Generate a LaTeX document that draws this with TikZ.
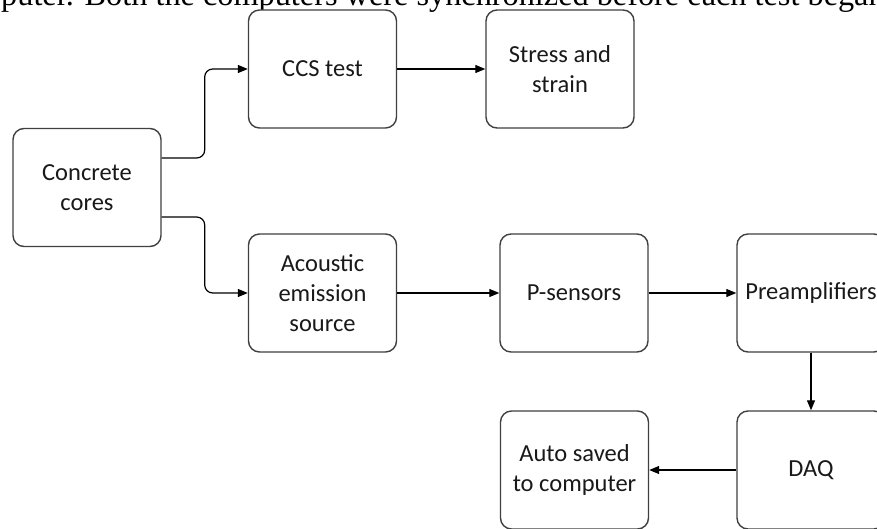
\documentclass[tikz,border=0pt]{standalone}
\usepackage{fontspec}
\setmainfont{Carlito}
\newfontfamily\pagefont{Liberation Serif}
\usetikzlibrary{arrows.meta}
\begin{document}
\begin{tikzpicture}[x=1pt,y=-1pt,
  box/.style={draw=black!75, line width=1.4pt, rounded corners=11pt, fill=white,
    minimum width=148pt, minimum height=118pt, align=center, inner sep=2pt,
    font=\fontsize{24.5}{30}\selectfont, text=black!90},
  arr/.style={draw=black, line width=1.2pt, -{Triangle[length=10pt,width=8pt]}}]
\useasboundingbox (0,0) rectangle (877,529);
\clip (0,0) rectangle (877,529);
\fill[white] (0,0) rectangle (877,529);
\node[anchor=base west, inner sep=0pt, font=\pagefont\fontsize{32.3}{38}\selectfont] (pg) at (1,5.5)
  {puter. Both the computers were synchronized before each test began};
\node[box] (cc) at (87,187.5) {Concrete\\cores};
\node[box] (ccs) at (322.5,69) {CCS test};
\node[box] (ss) at (560,69) {Stress and\\strain};
\node[box] (ae) at (322.5,293) {Acoustic\\emission\\source};
\node[box] (ps) at (574,293) {P-sensors};
\node[box] (pre) at (811,293) {Preamplifiers};
\node[box] (daq) at (811,470) {DAQ};
\node[box] (auto) at (574.5,470) {Auto saved\\to computer};
\draw[arr, rounded corners=8pt] ([yshift=29.5pt]cc.east) -- ++(43,0) |- (ccs.west);
\draw[arr, rounded corners=8pt] ([yshift=-29.5pt]cc.east) -- ++(43,0) |- (ae.west);
\draw[arr] (ccs) -- (ss);
\draw[arr] (ae) -- (ps);
\draw[arr] (ps) -- (pre);
\draw[arr] (pre) -- (daq);
\draw[arr] (daq) -- (auto);
\end{tikzpicture}
\end{document}
